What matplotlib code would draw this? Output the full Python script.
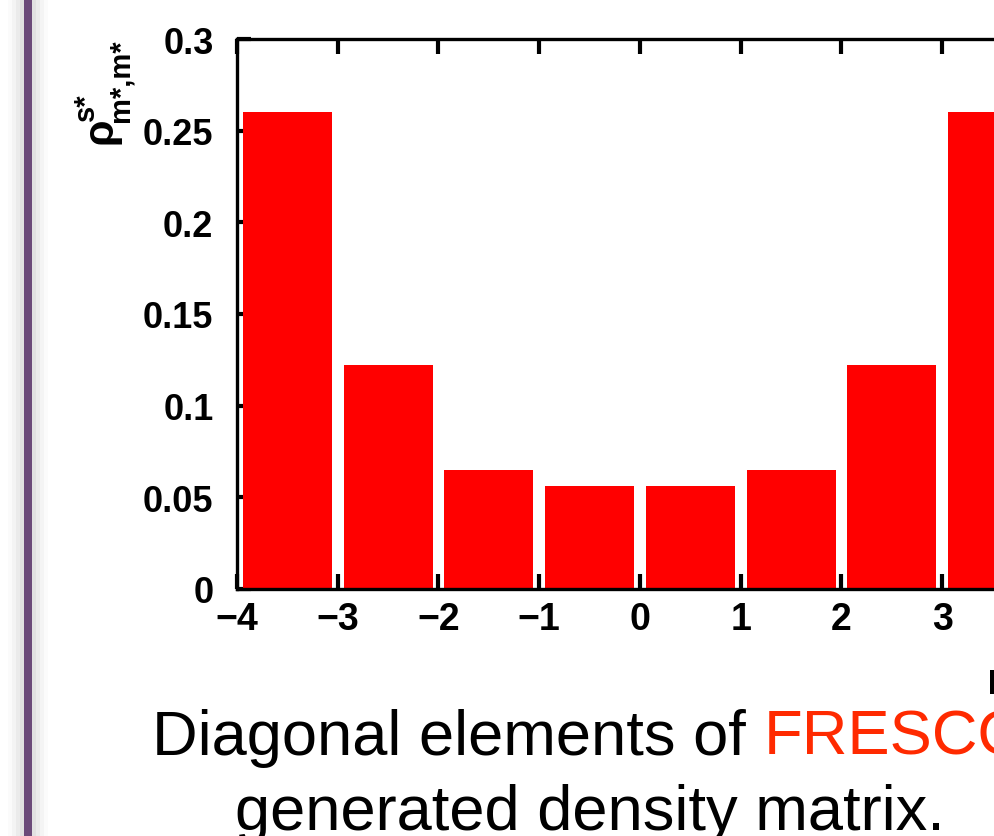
import matplotlib
matplotlib.use("Agg")
import matplotlib.pyplot as plt
from matplotlib.patches import Rectangle

# ---- data ----
m_centers = [-3.5, -2.5, -1.5, -0.5, 0.5, 1.5, 2.5, 3.5]
rho_diag = [0.260, 0.122, 0.0648, 0.0560, 0.0560, 0.0648, 0.122, 0.260]
x_ticks = [-4, -3, -2, -1, 0, 1, 2, 3, 4]
y_ticks = [0, 0.05, 0.1, 0.15, 0.2, 0.25, 0.3]
y_ticklabels = ["0", "0.05", "0.1", "0.15", "0.2", "0.25", "0.3"]
caption_1a = "Diagonal elements of "
caption_1b = "FRESCO"
caption_2 = "generated density matrix."

plt.rcParams['font.family'] = ['Liberation Sans', 'DejaVu Sans']
plt.rcParams['axes.unicode_minus'] = True

W, H = 995, 837
fig = plt.figure(figsize=(W / 100, H / 100), dpi=100)
fig.patch.set_facecolor('white')

# slide side bar with soft shadow
for i, a in enumerate([0.03, 0.05, 0.07, 0.09]):
    pad = (4 - i) * 4
    fig.add_artist(Rectangle(((24 - pad) / W, 0), (8 + 2 * pad) / W, 1,
                             transform=fig.transFigure, color='#808080',
                             alpha=a, lw=0, zorder=0))
fig.add_artist(Rectangle((24 / W, 0), 8 / W, 1, transform=fig.transFigure,
                         color='#6b4a79', lw=0, zorder=1))

# axes: x from -4 (px 237) to 4 (px ~1043), y 0 (px 590) to 0.3 (px 40)
left = 237 / W
right = 1043 / W
bottom = 1 - 590 / H
top = 1 - 40 / H
ax = fig.add_axes([left, bottom, right - left, top - bottom])
ax.bar(m_centers, rho_diag, width=0.885, color='#ff0000', linewidth=0, zorder=2)
ax.set_axisbelow(True)
ax.set_xlim(-4, 4)
ax.set_ylim(0, 0.3)
ax.set_xticks(x_ticks)
ax.set_xticklabels([f"{t}".replace('-', '\u2212') for t in x_ticks],
                   fontsize=27, fontweight='bold')
ax.set_yticks(y_ticks)
ax.set_yticklabels(y_ticklabels, fontsize=26, fontweight='bold')
ax.tick_params(axis='x', which='both', direction='in', length=11, width=3,
               top=True, bottom=True, pad=9)
ax.tick_params(axis='y', which='both', direction='in', length=10, width=3,
               left=True, right=True, pad=17)
for s in ax.spines.values():
    s.set_linewidth(2.4)

# y label rho^{s*}_{m*,m*} (rotated), near top-left
fig.text(101 / W, 1 - 131 / H, '\u03c1', rotation=90, ha='center', va='center',
         fontsize=31, fontweight='bold')
fig.text(86 / W, 1 - 107 / H, 's*', rotation=90, ha='center', va='center',
         fontsize=21, fontweight='bold')
fig.text(121 / W, 1 - 81 / H, 'm*,m*', rotation=90, ha='center', va='center',
         fontsize=21, fontweight='bold')

# x label (clipped at right edge)
fig.text(987 / W, 1 - 662 / H, 'm*', ha='left', va='top', fontsize=32,
         fontweight='bold')

# caption
fs_cap = 45.5
fig.canvas.draw()
r = fig.canvas.get_renderer()
t1 = fig.text(152 / W, 1 - 755 / H, caption_1a, ha='left', va='baseline',
              fontsize=fs_cap, color='black')
bb = t1.get_window_extent(renderer=r)
fig.text(bb.x1 / W, 1 - 755 / H, caption_1b, ha='left', va='baseline',
         fontsize=fs_cap, color='#ff2a00')
fig.text(590 / W, 1 - 830 / H, caption_2, ha='center', va='baseline',
         fontsize=fs_cap, color='black')

fig.savefig('out.png', dpi=100)
